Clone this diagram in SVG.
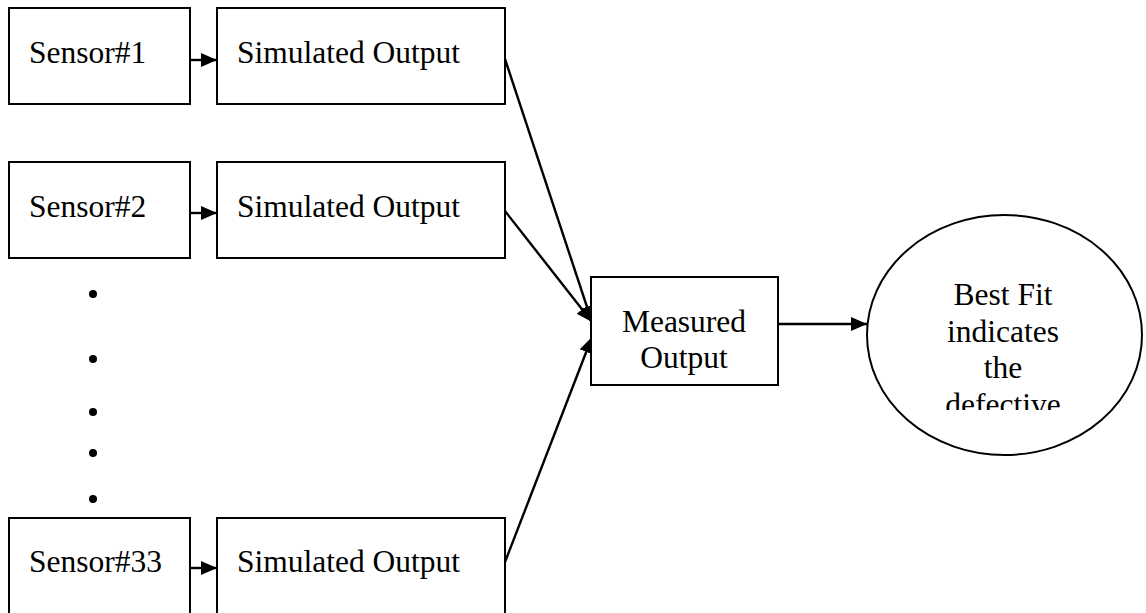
<svg xmlns="http://www.w3.org/2000/svg" width="1146" height="613" viewBox="0 0 1146 613">
<style>
.box{fill:#fff;stroke:#000;stroke-width:2}
.t{font-family:"Liberation Serif","Times New Roman",serif;font-size:31.5px;fill:#000}
.c{text-anchor:middle}
.ln{stroke:#000;stroke-width:2.4;fill:none;marker-end:url(#ah)}
</style>
<defs>
<marker id="ah" markerUnits="userSpaceOnUse" markerWidth="18" markerHeight="16" refX="16" refY="7" orient="auto">
<path d="M0,0 L16,7 L0,14 Z" fill="#000"/>
</marker>
<clipPath id="ec"><rect x="860" y="200" width="290" height="210"/></clipPath>
</defs>
<rect width="1146" height="613" fill="#fff"/>
<g id="connectors">
<line class="ln" x1="190" y1="60" x2="217" y2="60"/>
<line class="ln" x1="190" y1="213" x2="217" y2="213"/>
<line class="ln" x1="190" y1="568" x2="217" y2="568"/>
<line class="ln" x1="505" y1="59" x2="592" y2="322"/>
<line class="ln" x1="505" y1="211" x2="592" y2="322"/>
<line class="ln" x1="505" y1="562" x2="592" y2="337"/>
<line class="ln" x1="778" y1="324" x2="867" y2="324"/>
</g>
<g id="sensor1"><rect class="box" x="9" y="8" width="181" height="96"/><text class="t" x="29" y="63">Sensor#1</text></g>
<g id="sim1"><rect class="box" x="217" y="8" width="288" height="96"/><text class="t" x="237" y="63">Simulated Output</text></g>
<g id="sensor2"><rect class="box" x="9" y="162" width="181" height="96"/><text class="t" x="29" y="217">Sensor#2</text></g>
<g id="sim2"><rect class="box" x="217" y="162" width="288" height="96"/><text class="t" x="237" y="217">Simulated Output</text></g>
<g id="dots" fill="#000">
<circle cx="93" cy="294" r="4"/>
<circle cx="93" cy="359" r="4"/>
<circle cx="93" cy="412" r="4"/>
<circle cx="93" cy="453" r="4"/>
<circle cx="93" cy="499" r="4"/>
</g>
<g id="sensor33"><rect class="box" x="9" y="518" width="181" height="100"/><text class="t" x="29" y="572">Sensor#33</text></g>
<g id="sim33"><rect class="box" x="217" y="518" width="288" height="100"/><text class="t" x="237" y="572">Simulated Output</text></g>
<g id="measured"><rect class="box" x="591" y="277" width="187" height="108"/><text class="t c" x="684" y="332">Measured</text><text class="t c" x="684" y="368">Output</text></g>
<g id="bestfit"><ellipse class="box" cx="1004.5" cy="335" rx="137.5" ry="120"/>
<g clip-path="url(#ec)"><text class="t c" x="1003" y="305">Best Fit</text><text class="t c" x="1003" y="342">indicates</text><text class="t c" x="1003" y="378">the</text><text class="t c" x="1003" y="415">defective</text></g></g>
</svg>
